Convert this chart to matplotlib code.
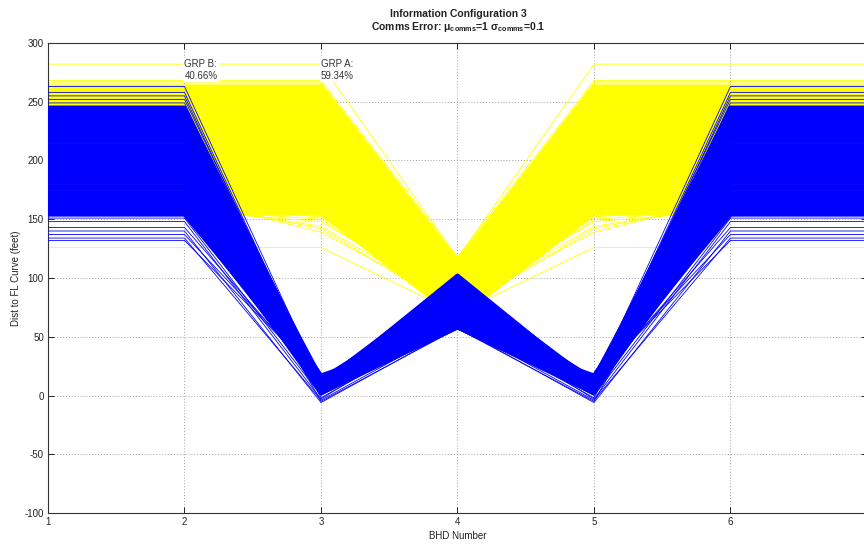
import matplotlib
matplotlib.use("Agg")
import matplotlib.pyplot as plt

plt.rcParams['font.family'] = ['Liberation Sans', 'DejaVu Sans']
plt.rcParams['axes.unicode_minus'] = False
plt.rcParams['mathtext.fontset'] = 'custom'
plt.rcParams['mathtext.rm'] = 'Liberation Sans:bold'
plt.rcParams['mathtext.it'] = 'Liberation Sans:bold'
plt.rcParams['mathtext.bf'] = 'Liberation Sans:bold'

bhd_numbers = [1, 2, 3, 4, 5, 6, 7]
tick_labels = ['1', '2', '3', '4', '5', '6', '']

# Group B (blue): distance at BHD 1,2,6,7 ("outer"), at BHD 3,5 ("dip"), at BHD 4 ("mid")
blue_outer = [154, 156, 158, 161, 163, 166, 168, 171, 173, 176, 178, 181, 183,
              186, 188, 191, 193, 196, 198, 201, 203, 206, 208, 211, 213, 216,
              218, 221, 223, 226, 228, 231, 233, 236, 238, 241, 243, 245]
blue_dip = [14, 9, 16, 5, 12, 3, 15, 7, 10, 2, 13, 6, 17,
            4, 11, 8, 15, 3, 12, 6, 16, 9, 2, 13, 5, 10,
            14, 7, 4, 12, 8, 15, 6, 11, 3, 13, 9, 11]
blue_mid = [70, 95, 62, 80, 88, 58, 66, 100, 84, 60, 75, 90, 58,
            72, 98, 102, 68, 65, 92, 85, 60, 78, 58, 82, 96, 70,
            86, 64, 88, 76, 101, 73, 59, 93, 77, 67, 89, 81]

# sparse group B runs at the edges of the distribution
blue_sparse_outer = [263, 258, 255, 252, 249, 151, 148, 143, 140, 137, 134, 132, 200, 220]
blue_sparse_dip = [11, 8, 5, 12, 1, 0, -3, 10, -6, 13, -4, 14, -5, -2]
blue_sparse_mid = [95, 88, 75, 68, 80, 62, 70, 85, 58, 66, 60, 78, 57, 63]

# Group A (yellow): distance at BHD 1,2,3,5,6,7 ("outer"), at BHD 4 ("mid")
yellow_outer = [155, 157, 159, 161, 164, 166, 169, 171, 174, 176, 179, 181,
                184, 186, 189, 191, 194, 196, 199, 201, 204, 206, 209, 211,
                214, 216, 219, 221, 224, 226, 229, 231, 234, 236, 239, 241,
                244, 246, 249, 251, 254, 256, 259, 261, 263]
yellow_mid = [66, 69, 67, 71, 70, 73, 72, 75, 74, 78, 76, 80,
              79, 82, 81, 84, 83, 87, 85, 89, 88, 91, 90, 93,
              92, 96, 94, 98, 97, 100, 99, 102, 101, 105, 103, 107,
              106, 109, 108, 111, 110, 113, 112, 114, 114]

# sparse group A runs: BHD 1,2,6,7 ("edge"), BHD 3,5 ("inner"), BHD 4 ("mid")
yellow_sparse_edge = [282, 268, 266, 160, 158, 157, 162, 165, 168, 126]
yellow_sparse_inner = [282, 268, 266, 152, 150, 148, 144, 142, 139, 126]
yellow_sparse_mid = [117, 118, 116, 78, 74, 80, 76, 72, 77, 70]

group_labels = ['GRP B:\n40.66%', 'GRP A:\n59.34%']
group_label_x = [2, 3]
group_label_y = 277

BLUE = (0, 0, 1)
YELLOW = (1, 1, 0)

fig = plt.figure(figsize=(8.64, 5.44), dpi=100)
ax = fig.add_axes([48 / 864, 31 / 544, 819 / 864, 470 / 544])


def draw_group(edge, inner, mid, color, lw, z):
    for i in range(len(edge)):
        ys = [edge[i], edge[i], inner[i], mid[i], inner[i], edge[i], edge[i]]
        ax.plot(bhd_numbers, ys, color=color, lw=lw, zorder=z,
                solid_joinstyle='round', solid_capstyle='butt')


draw_group(yellow_outer, yellow_outer, yellow_mid, YELLOW, 3.0, 2)
draw_group(yellow_sparse_edge, yellow_sparse_inner, yellow_sparse_mid, YELLOW, 0.6, 2.1)
draw_group(blue_outer, blue_dip, blue_mid, BLUE, 3.0, 3)
draw_group(blue_sparse_outer, blue_sparse_dip, blue_sparse_mid, BLUE, 0.6, 3.1)

for txt, gx in zip(group_labels, group_label_x):
    ax.text(gx, group_label_y, txt, ha='left', va='center', fontsize=7,
            color='#333333', linespacing=1.15, zorder=5,
            bbox=dict(facecolor='white', edgecolor='none', pad=0.8))

ax.set_xlim(1, 7)
ax.set_ylim(-100, 300)
ax.set_xticks(bhd_numbers)
ax.set_xticklabels(tick_labels)
ax.set_yticks(range(-100, 301, 50))
ax.set_axisbelow(True)
ax.grid(True, linestyle=(0, (1, 2)), color='#a0a0a0', lw=0.7)
ax.tick_params(direction='in', top=True, right=True, length=4, width=0.7,
               labelsize=7, colors='#222222', pad=3)
for s in ax.spines.values():
    s.set_linewidth(0.8)
    s.set_color('#333333')

ax.set_xlabel('BHD Number', fontsize=7, color='#222222', labelpad=3)
ax.set_ylabel('Dist to FL Curve (feet)', fontsize=7, color='#222222')
ax.yaxis.set_label_coords(-0.033, 0.5)

fig.text(458 / 864, 1 - 14 / 544, 'Information Configuration 3', ha='center',
         va='center', fontsize=7.5, fontweight='bold', color='#222222')
fig.text(458 / 864, 1 - 27 / 544,
         r'Comms Error: $\mu_{comms}$=1 $\sigma_{comms}$=0.1', ha='center',
         va='center', fontsize=7.5, fontweight='bold', color='#222222')

fig.savefig('out.png', dpi=100)
